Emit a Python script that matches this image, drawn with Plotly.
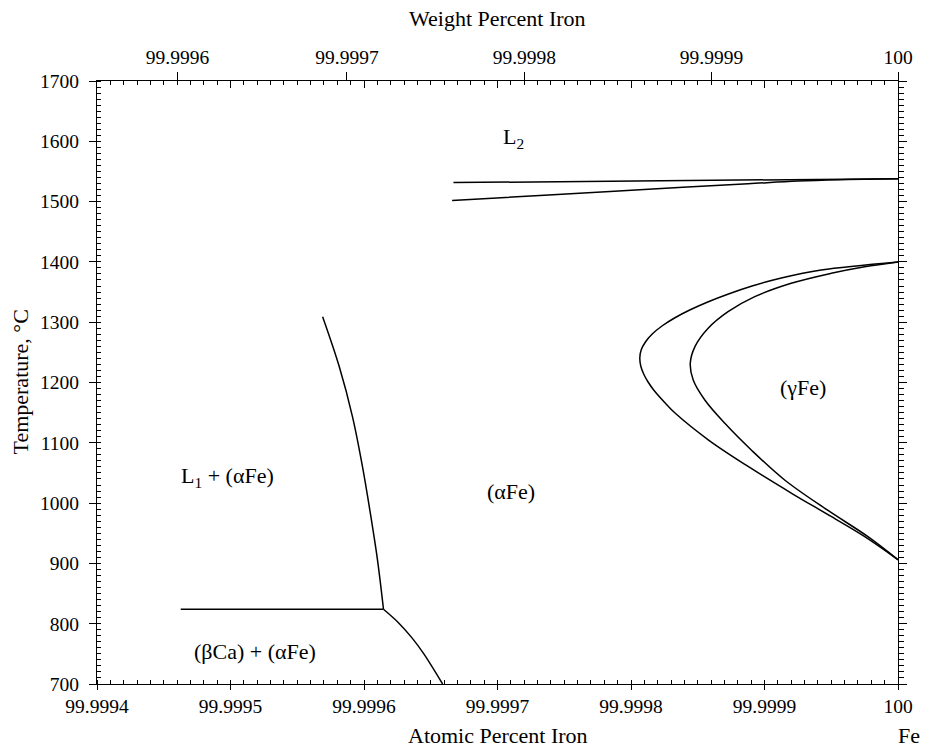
import plotly.graph_objects as go

# ---------------- data (atomic % Fe, temperature °C) ----------------
x_ticks = [99.9994, 99.9995, 99.9996, 99.9997, 99.9998, 99.9999, 100.0]
x_ticktext = ["99.9994", "99.9995", "99.9996", "99.9997", "99.9998", "99.9999", "100"]
wt_ticktext = ["99.9996", "99.9997", "99.9998", "99.9999", "100"]
wt_tickpos = [99.99946027, 99.99958723, 99.99972017, 99.99986027, 100.0]
y_ticks = [700, 800, 900, 1000, 1100, 1200, 1300, 1400, 1500, 1600, 1700]

liquidus_x = [99.999667, 99.99980, 99.99990, 100.0]
liquidus_y = [1531.5, 1534.0, 1536.0, 1538.0]

solidus_x = [99.999666, 99.9997383, 99.999813, 99.9998877, 99.999925, 99.9999624, 100.0]
solidus_y = [1502.0, 1511.0, 1520.5, 1529.6, 1534.2, 1536.5, 1538.0]

outer_x = [100.0, 99.9999425, 99.9999126, 99.9998907, 99.999873, 99.9998575, 99.999844,
           99.9998326, 99.9998232, 99.9998159, 99.9998108, 99.9998076, 99.9998066,
           99.9998073, 99.9998095, 99.9998128, 99.999817, 99.9998249, 99.9998332,
           99.9998581, 99.999888, 99.9999203, 99.9999502, 99.9999751, 100.0]
outer_y = [1400, 1386.6, 1373.3, 1360.0, 1346.8, 1333.5, 1320.2, 1307.0, 1293.7,
           1280.4, 1267.2, 1253.9, 1240.6, 1227.4, 1214.1, 1200.8, 1187.6, 1167.7,
           1148.9, 1104.6, 1060.4, 1016.3, 977.4, 944.3, 906]

inner_x = [100.0, 99.999975, 99.999950, 99.999920, 99.9998927, 99.9998727, 99.9998578,
           99.9998479, 99.9998444, 99.9998466, 99.9998553, 99.9998703, 99.9998901,
           99.9999151, 99.999947, 99.9999775, 100.0]
inner_y = [1400, 1392, 1381.1, 1364.5, 1342.3, 1317.4, 1289.9, 1259.4, 1231.8, 1204.1,
           1171, 1132.3, 1088.1, 1038.3, 988.6, 944.3, 906]

steep_x = [99.999569, 99.9995815, 99.9995914, 99.9995989, 99.9996052, 99.9996101, 99.9996146]
steep_y = [1309, 1226, 1143, 1060, 977, 906, 824]

lower_x = [99.9996146, 99.9996258, 99.9996358, 99.9996447, 99.9996589]
lower_y = [824, 801.7, 776.9, 750.4, 700]

eut_x = [99.9994627, 99.9996146]
eut_y = [824, 824]

labels = [
    ("L<sub>2</sub>", 99.9997122, 1605),
    ("(γFe)", 99.9999287, 1192),
    ("L<sub>1</sub> + (αFe)", 99.9994976, 1044),
    ("(αFe)", 99.9997102, 1019),
    ("(βCa) + (αFe)", 99.9995185, 754),
]

FONT = "'Liberation Serif', 'Times New Roman', Times, serif"
X_RANGE = [99.9994, 100.0]
Y_RANGE = [700, 1700]

fig = go.Figure()

curves = [
    (liquidus_x, liquidus_y, "linear"),
    (solidus_x, solidus_y, "spline"),
    (outer_x, outer_y, "spline"),
    (inner_x, inner_y, "spline"),
    (steep_x, steep_y, "spline"),
    (lower_x, lower_y, "spline"),
    (eut_x, eut_y, "linear"),
]
for xs, ys, shp in curves:
    fig.add_trace(go.Scatter(x=xs, y=ys, mode="lines",
                             line=dict(color="black", width=1.5, shape=shp),
                             hoverinfo="skip", showlegend=False))

# invisible traces so the extra axes are drawn
for xa, ya in (("x2", "y"), ("x3", "y"), ("x", "y2")):
    fig.add_trace(go.Scatter(x=[100.0], y=[700], xaxis=xa, yaxis=ya, mode="markers",
                             marker=dict(opacity=0, size=1), hoverinfo="skip",
                             showlegend=False))

tickfont = dict(family=FONT, size=19.5, color="black")

fig.update_layout(
    width=925, height=748,
    margin=dict(l=97, r=25, t=81, b=64),
    paper_bgcolor="white", plot_bgcolor="white",
    font=dict(family=FONT, color="black"),
    xaxis=dict(range=X_RANGE, tickmode="array", tickvals=x_ticks, ticktext=x_ticktext,
               ticks="outside", ticklen=5, tickwidth=1, tickcolor="black",
               showline=True, linecolor="black", linewidth=1,
               showgrid=False, zeroline=False, tickfont=tickfont,
               minor=dict(tickmode="linear", tick0=99.9994, dtick=0.00001,
                          ticks="inside", ticklen=4, tickwidth=1, tickcolor="black",
                          showgrid=False)),
    xaxis3=dict(range=X_RANGE, overlaying="x", anchor="y", side="top",
                tickmode="array", tickvals=x_ticks, showticklabels=False,
                ticks="inside", ticklen=7, tickwidth=1, tickcolor="black",
                showline=True, linecolor="black", linewidth=1,
                showgrid=False, zeroline=False,
                minor=dict(tickmode="linear", tick0=99.9994, dtick=0.00001,
                           ticks="inside", ticklen=4, tickwidth=1, tickcolor="black",
                           showgrid=False)),
    xaxis2=dict(range=X_RANGE, overlaying="x", anchor="y", side="top",
                tickmode="array", tickvals=wt_tickpos, ticktext=wt_ticktext,
                ticks="outside", ticklen=8, tickwidth=1, tickcolor="black",
                showline=False, showgrid=False, zeroline=False, tickfont=tickfont),
    yaxis=dict(range=Y_RANGE, tickmode="array", tickvals=y_ticks,
               ticks="outside", ticklen=7, tickwidth=1, tickcolor="black",
               ticklabelstandoff=6,
               showline=True, linecolor="black", linewidth=1,
               showgrid=False, zeroline=False, tickfont=tickfont,
               minor=dict(tickmode="linear", tick0=700, dtick=10,
                          ticks="inside", ticklen=4, tickwidth=1, tickcolor="black",
                          showgrid=False)),
    yaxis2=dict(range=Y_RANGE, overlaying="y", anchor="x", side="right",
                tickmode="array", tickvals=y_ticks, showticklabels=False,
                ticks="outside", ticklen=8, tickwidth=1, tickcolor="black",
                showline=True, linecolor="black", linewidth=1,
                showgrid=False, zeroline=False,
                minor=dict(tickmode="linear", tick0=700, dtick=10,
                           ticks="outside", ticklen=5, tickwidth=1, tickcolor="black",
                           showgrid=False)),
)

ann = []
for txt, x, y in labels:
    ann.append(dict(text=txt, x=x, y=y, xref="x", yref="y", showarrow=False,
                    font=dict(family=FONT, size=22, color="black")))
ann.append(dict(text="Atomic Percent Iron", xref="paper", yref="paper", x=0.5, y=0,
                yshift=-51, showarrow=False, xanchor="center", yanchor="middle",
                font=dict(family=FONT, size=22, color="black")))
ann.append(dict(text="Fe", xref="paper", yref="paper", x=1, y=0, xshift=11,
                yshift=-51, showarrow=False, xanchor="center", yanchor="middle",
                font=dict(family=FONT, size=22, color="black")))
ann.append(dict(text="Weight Percent Iron", xref="paper", yref="paper", x=0.5, y=1,
                yshift=63, showarrow=False, xanchor="center", yanchor="middle",
                font=dict(family=FONT, size=22, color="black")))
ann.append(dict(text="Temperature, °C", xref="paper", yref="paper", x=0, y=0.5,
                xshift=-77, showarrow=False, xanchor="center", yanchor="middle",
                textangle=-90, font=dict(family=FONT, size=22, color="black")))
fig.update_layout(annotations=ann)

fig.write_html("out.html")
